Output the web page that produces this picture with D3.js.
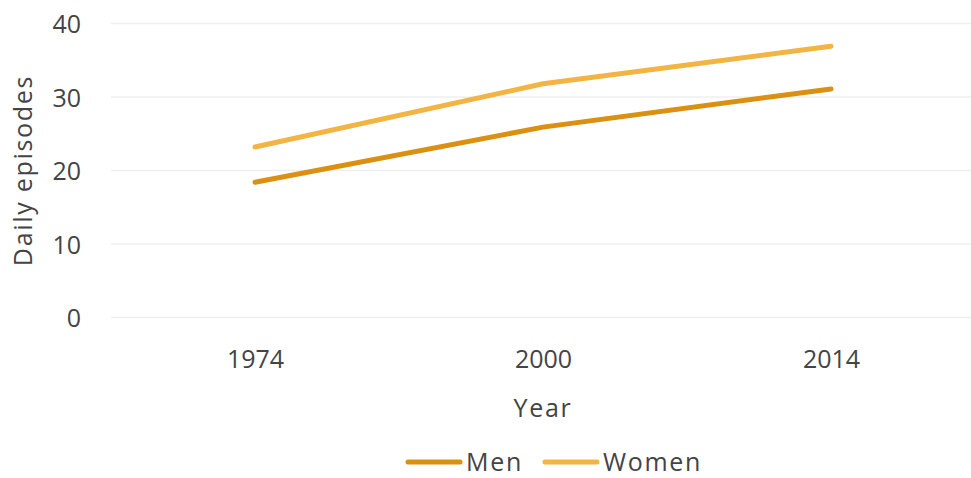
<!DOCTYPE html>
<html>
<head>
<meta charset="utf-8">
<script src="https://cdn.jsdelivr.net/npm/d3@7"></script>
<style>
  html, body { margin: 0; padding: 0; background: #fff; }
  svg { display: block; }
  text { font-family: "Open Sans", sans-serif; fill: #444; }
</style>
</head>
<body>
<svg id="chart" width="971" height="478"></svg>
<script>
// Daily episodes by year, men and women
const years = ["1974", "2000", "2014"];
const menValues = [18.4, 25.9, 31.1];
const womenValues = [23.2, 31.8, 36.9];
const yTicks = [0, 10, 20, 30, 40];
const seriesNames = ["Men", "Women"];
const seriesColors = ["#DA9010", "#F2B443"];

const svg = d3.select("#chart");
const W = 971;
const plotLeft = 111, plotTop = 23.5, plotBottom = 317.5;
const fontSize = "25px";
const wordSpacing = "1.7px";
const legendY = 462;

const x = d3.scalePoint().domain(years).range([plotLeft, plotLeft + 864]).padding(0.5);
const y = d3.scaleLinear().domain([0, 40]).range([plotBottom, plotTop]);

// gridlines
svg.append("g")
  .selectAll("line")
  .data(yTicks)
  .join("line")
  .attr("x1", plotLeft)
  .attr("x2", W)
  .attr("y1", d => y(d))
  .attr("y2", d => y(d))
  .attr("stroke", "#efefef")
  .attr("stroke-width", 1.5);

// y axis labels
const yAxis = d3.axisLeft(y).tickValues(yTicks).tickSize(0).tickPadding(0);
const yg = svg.append("g").attr("transform", `translate(${plotLeft - 30},0)`).call(yAxis);
yg.select(".domain").remove();
yg.selectAll("text")
  .style("font-family", '"Open Sans", sans-serif')
  .style("font-size", fontSize)
  .attr("fill", "#444")
  .attr("dy", "0.36em");

// x axis labels
const xAxis = d3.axisBottom(x).tickSize(0).tickPadding(0);
const xg = svg.append("g").attr("transform", `translate(0,359)`).call(xAxis);
xg.select(".domain").remove();
xg.selectAll("text")
  .style("font-family", '"Open Sans", sans-serif')
  .style("font-size", fontSize)
  .attr("fill", "#444")
  .attr("y", 0)
  .attr("dy", "0.36em");

// axis titles
svg.append("text")
  .attr("transform", `translate(32,${y(20)}) rotate(-90)`)
  .attr("text-anchor", "middle")
  .style("font-size", fontSize)
  .style("letter-spacing", wordSpacing)
  .text("Daily episodes");

svg.append("text")
  .attr("x", x("2000"))
  .attr("y", 417)
  .attr("text-anchor", "middle")
  .style("font-size", fontSize)
  .style("letter-spacing", wordSpacing)
  .text("Year");

// lines
const series = [menValues, womenValues];
const line = d3.line().x((d, i) => x(years[i])).y(d => y(d));
svg.append("g")
  .selectAll("path")
  .data(series)
  .join("path")
  .attr("d", d => line(d))
  .attr("fill", "none")
  .attr("stroke", (d, i) => seriesColors[i])
  .attr("stroke-width", 5)
  .attr("stroke-linecap", "round")
  .attr("stroke-linejoin", "round");

// legend
const legendItems = [
  { name: seriesNames[0], color: seriesColors[0], x0: 406 },
  { name: seriesNames[1], color: seriesColors[1], x0: 543 }
];
const lg = svg.append("g");
legendItems.forEach(it => {
  lg.append("line")
    .attr("x1", it.x0 + 2).attr("x2", it.x0 + 54)
    .attr("y1", legendY).attr("y2", legendY)
    .attr("stroke", it.color)
    .attr("stroke-width", 5)
    .attr("stroke-linecap", "round");
  lg.append("text")
    .attr("x", it.x0 + 60)
    .attr("y", legendY)
    .attr("dy", "0.36em")
    .style("font-size", fontSize)
    .style("letter-spacing", wordSpacing)
    .text(it.name);
});
</script>
</body>
</html>
